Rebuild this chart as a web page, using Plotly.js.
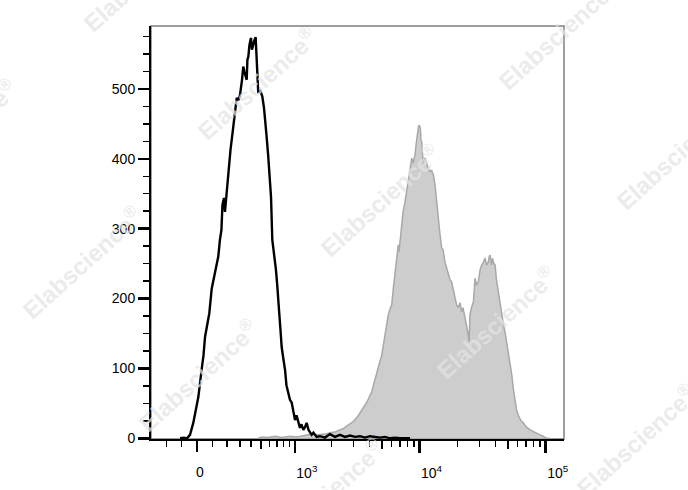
<!DOCTYPE html>
<html>
<head>
<meta charset="utf-8">
<script src="https://cdn.plot.ly/plotly-3.0.1.min.js"></script>
<style>
html,body{margin:0;padding:0;background:#ffffff;}
#chart{width:688px;height:490px;}
</style>
</head>
<body>
<div id="chart"></div>
<script>
// ---- data (x in biexponential display units, y = event count) ----
const blackX = [-0.158,-0.127,-0.103,-0.079,-0.053,-0.032,-0.013,0.013,0.028,0.040,
0.055,0.074,0.093,0.119,0.145,0.158,0.170,0.178,0.190,0.198,
0.210,0.224,0.242,0.264,0.277,0.291,0.305,0.317,0.333,0.343,
0.353,0.370,0.376,0.383,0.392,0.404,0.412,0.422,0.432,0.441,
0.449,0.456,0.462,0.475,0.494,0.507,0.515,0.527,0.541,0.555,
0.563,0.573,0.582,0.594,0.602,0.613,0.618,0.626,0.638,0.647,
0.662,0.674,0.685,0.700,0.713,0.727,0.737,0.753,0.765,0.779,
0.792,0.804,0.819,0.832,0.845,0.860,0.872,0.885,0.899,0.925,
0.951,0.990,1.030,1.070,1.109,1.149,1.189,1.228,1.268,1.307,
1.347,1.387,1.426,1.466,1.506,1.545,1.585,1.664];
const blackY = [0,1,0,5,22,40,59,98,119,145,
162,179,214,235,260,284,298,334,344,324,
351,384,413,446,470,487,484,491,513,532,
524,513,542,546,563,573,556,566,570,574,
537,520,494,499,489,473,460,434,403,370,
345,284,270,260,241,217,198,184,155,131,
112,98,76,65,55,51,41,26,33,23,
15,20,12,16,22,12,8,5,8,2,
3,1,6,2,5,2,4,2,3,1,
3,2,1,2,0,1,0,0];

const grayX = [0.460,0.491,0.539,0.594,0.650,0.713,0.769,0.832,0.887,0.935,
0.990,1.030,1.070,1.109,1.136,1.173,1.215,1.252,1.294,1.323,
1.361,1.379,1.400,1.418,1.440,1.454,1.466,1.478,1.492,1.506,
1.519,1.532,1.545,1.559,1.571,1.577,1.585,1.598,1.609,1.624,
1.636,1.651,1.664,1.678,1.688,1.704,1.712,1.722,1.731,1.738,
1.746,1.751,1.757,1.763,1.769,1.783,1.796,1.807,1.823,1.834,
1.849,1.862,1.876,1.888,1.902,1.915,1.926,1.941,1.953,1.968,
1.981,1.994,2.005,2.021,2.033,2.047,2.060,2.074,2.084,2.100,
2.112,2.126,2.132,2.139,2.151,2.166,2.173,2.179,2.191,2.205,
2.219,2.232,2.246,2.258,2.270,2.284,2.292,2.298,2.310,2.318,
2.324,2.338,2.349,2.364,2.377,2.391,2.405,2.417,2.429,2.443,
2.456,2.470,2.484,2.496,2.508,2.522,2.540,2.562,2.587,2.615,
2.655,2.694,2.718,2.747,2.773];
const grayY = [0,2,1,3,1,3,2,4,6,5,
6,8,9,12,14,19,24,32,43,52,
67,78,91,105,119,134,148,162,177,185,
191,215,234,252,277,267,281,305,324,338,
353,367,384,401,394,406,420,438,446,448,
444,427,424,406,395,401,391,387,381,384,
377,363,338,310,291,272,270,252,244,234,
227,224,212,201,191,187,194,181,187,172,
166,148,138,177,187,195,212,229,219,224,
241,248,252,258,248,252,260,262,248,258,
252,248,227,209,191,177,162,152,138,124,
106,91,69,52,41,33,26,22,16,12,
8,5,3,0,0];

// tick values (fluorescence intensity) and labels
const majorVals = [1e3, 1e4, 1e5];
const majorText = ['10<sup>3</sup>', '10<sup>4</sup>', '10<sup>5</sup>'];
const zeroVals = [0];
const zeroText = ['0'];
const mediumVals = [500, 5e3, 5e4];
const minorVals = [-200, -100, 100, 200, 300, 400, 600, 700, 800, 900,
  2e3, 3e3, 4e3, 6e3, 7e3, 8e3, 9e3, 2e4, 3e4, 4e4, 6e4, 7e4, 8e4, 9e4];

// ---- biexponential (arcsinh) display transform ----
const ZERO_POS = -0.024, LIN_W = 345;
function T(v){ return ZERO_POS + Math.asinh(v / LIN_W) / Math.LN10; }

const XR = [-0.388, 2.884];
const YR = [-1, 590];
const FONT = 'Arial, "Liberation Sans", sans-serif';

// ---- watermark layout (pixel centres) ----
const ML = 151, MT = 26, PW = 413, PH = 413;
const wmCentres = [[143,-25],[-43,135],[257,83],[558,33],[82,262],[380,200],
  [676,153],[198,375],[496,322],[324,495],[636,440]];
const annotations = wmCentres.map(c => ({
  xref:'paper', yref:'paper',
  x:(c[0]-ML)/PW, y:(MT+PH-c[1])/PH,
  xanchor:'center', yanchor:'middle',
  text:'Elabscience<sup>®</sup>', showarrow:false, textangle:-42,
  font:{family:FONT, size:24, color:'rgba(228,228,228,0.72)', weight:'bold'}
}));

const traces = [
  {type:'scatter', mode:'lines', x:grayX, y:grayY, fill:'tozeroy',
   fillcolor:'#cdcdcd', line:{color:'#a8a8a8', width:1.5}, hoverinfo:'skip'},
  {type:'scatter', mode:'lines', x:blackX, y:blackY,
   line:{color:'#000000', width:2.4}, hoverinfo:'skip'},
  {type:'scatter', mode:'lines', x:[], y:[], xaxis:'x2', yaxis:'y', hoverinfo:'skip'},
  {type:'scatter', mode:'lines', x:[], y:[], xaxis:'x3', yaxis:'y', hoverinfo:'skip'}
];

const layout = {
  width:688, height:490,
  margin:{l:ML, r:688-ML-PW, t:MT, b:490-MT-PH, pad:0},
  paper_bgcolor:'#ffffff', plot_bgcolor:'#ffffff',
  showlegend:false,
  font:{family:FONT, size:14, color:'#000000'},
  xaxis:{
    range:XR, showline:true, linecolor:'#000', linewidth:2,
    ticks:'outside', ticklen:12, tickwidth:2.5, tickcolor:'#000',
    tickmode:'array', tickvals:majorVals.map(T), ticktext:majorText,
    ticklabelshift:12, ticklabelstandoff:8,
    showgrid:false, zeroline:false,
    minor:{tickmode:'array', tickvals:minorVals.map(T), ticks:'outside',
      ticklen:6, tickwidth:1.5, tickcolor:'#000', showgrid:false}
  },
  xaxis2:{
    overlaying:'x', anchor:'y', side:'bottom', range:XR,
    showline:false, ticks:'outside', ticklen:12, tickwidth:2.5, tickcolor:'#000',
    tickmode:'array', tickvals:zeroVals.map(T), ticktext:zeroText,
    ticklabelshift:3, ticklabelstandoff:8, showgrid:false, zeroline:false
  },
  xaxis3:{
    overlaying:'x', anchor:'y', side:'bottom', range:XR,
    showline:false, ticks:'outside', ticklen:9, tickwidth:2, tickcolor:'#000',
    tickmode:'array', tickvals:mediumVals.map(T), showticklabels:false,
    showgrid:false, zeroline:false
  },
  yaxis:{
    range:YR, showline:true, linecolor:'#000', linewidth:2,
    ticks:'outside', ticklen:11, tickwidth:2.5, tickcolor:'#000',
    tickmode:'linear', tick0:0, dtick:100,
    showgrid:false, zeroline:false,
    minor:{tick0:0, dtick:25, ticks:'outside', ticklen:6, tickwidth:1.5,
      tickcolor:'#000', showgrid:false}
  },
  shapes:[{type:'rect', xref:'paper', yref:'paper', x0:0, x1:1, y0:0, y1:1,
    line:{color:'#7f7f7f', width:1.5}, layer:'below'}],
  annotations:annotations
};

Plotly.newPlot('chart', traces, layout, {displayModeBar:false, staticPlot:true});
</script>
</body>
</html>
